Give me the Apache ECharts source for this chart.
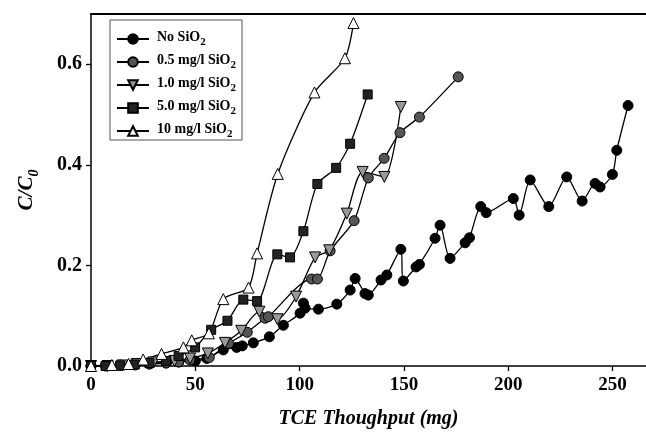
<!DOCTYPE html>
<html>
<head>
<meta charset="utf-8">
<script src="https://cdn.jsdelivr.net/npm/echarts@6/dist/echarts.min.js"></script>
<style>
  html, body { margin: 0; padding: 0; background: #fff; }
  #chart { width: 646px; height: 438px; }
</style>
</head>
<body>
<div id="chart"></div>
<script>
// series names (legend order)
const seriesNames = ['No SiO2', '0.5 mg/l SiO2', '1.0 mg/l SiO2', '5.0 mg/l SiO2', '10 mg/l SiO2'];

// tick values
const xTicks = [0, 50, 100, 150, 200, 250];
const yTicks = [0, 0.2, 0.4, 0.6];

// [TCE throughput (mg), C/C0]
const noSiO2 = [
  [0, 0], [7, 0.001], [14, 0.002], [21, 0.003], [28, 0.004], [36, 0.006], [42, 0.008], [50, 0.01],
  [55.5, 0.015], [63.4, 0.032], [69.8, 0.037], [72.5, 0.04], [77.8, 0.046], [85.5, 0.058],
  [92.2, 0.081], [100.2, 0.105], [101.8, 0.125], [102.6, 0.115], [109, 0.113], [117.8, 0.123],
  [124.2, 0.151], [126.6, 0.174], [131.3, 0.144], [132.9, 0.141], [139, 0.171], [141.8, 0.181],
  [148.5, 0.232], [149.7, 0.169], [155.8, 0.197], [157.4, 0.202], [164.9, 0.254], [167.3, 0.28],
  [172.1, 0.214], [179.3, 0.245], [181.4, 0.255], [186.8, 0.317], [189.4, 0.305], [202.4, 0.333],
  [205.2, 0.3], [210.5, 0.37], [219.4, 0.317], [228, 0.376], [235.4, 0.328], [241.6, 0.363],
  [244, 0.356], [249.9, 0.381], [252, 0.429], [257.4, 0.518]
];
const siO2_05 = [
  [0, 0], [7, 0], [14, 0.001], [21, 0.002], [28, 0.004], [36, 0.006], [42, 0.008], [47.5, 0.012],
  [56.7, 0.017], [66, 0.045], [74.9, 0.067], [83.4, 0.095], [85, 0.098], [105.7, 0.173],
  [108.5, 0.173], [114.6, 0.229], [126.1, 0.289], [132.9, 0.374], [140.5, 0.413], [148.1, 0.464],
  [157.4, 0.495], [176, 0.575]
];
const siO2_10 = [
  [0, 0], [8, 0], [15, 0.001], [22, 0.004], [30, 0.007], [40, 0.01], [47.5, 0.015], [56, 0.025],
  [64.2, 0.046], [72, 0.07], [80.7, 0.108], [89.3, 0.093], [98.3, 0.138], [107.4, 0.216],
  [114.2, 0.23], [122.6, 0.303], [130.2, 0.386], [140.6, 0.376], [148.5, 0.515]
];
const siO2_50 = [
  [0, 0], [7, 0], [14, 0.001], [21, 0.003], [28, 0.006], [36, 0.01], [42, 0.02], [49.9, 0.037],
  [57.6, 0.072], [65.4, 0.09], [73, 0.132], [79.6, 0.129], [89.3, 0.222], [95.4, 0.216],
  [101.8, 0.268], [108.5, 0.362], [117.5, 0.394], [124.2, 0.442], [132.6, 0.54]
];
const siO2_100 = [
  [0, 0], [10, 0.002], [18, 0.004], [25, 0.013], [33.8, 0.024], [44.3, 0.037], [48.3, 0.051],
  [56.5, 0.065], [63.4, 0.133], [75.5, 0.156], [79.6, 0.224], [89.5, 0.382], [107.1, 0.544],
  [121.7, 0.612], [125.8, 0.682]
];

const font = 'Liberation Serif, Times New Roman, serif';

function makeSeries(name, data, symbol, size, fill, rotate) {
  return {
    name: name,
    type: 'line',
    data: data,
    smooth: 0.25,
    symbol: symbol,
    symbolSize: size,
    symbolRotate: rotate || 0,
    showAllSymbol: true,
    lineStyle: { color: '#000', width: 1.3 },
    itemStyle: { color: fill, borderColor: '#000', borderWidth: 1 },
    emphasis: { disabled: true }
  };
}

const chart = echarts.init(document.getElementById('chart'));

const option = {
  animation: false,
  backgroundColor: '#fff',
  grid: { left: 91, right: 0, top: 14, bottom: 72 },
  legend: {
    orient: 'vertical',
    left: 110,
    top: 20,
    padding: [10, 6, 0, 6],
    itemGap: 5,
    itemWidth: 32,
    itemHeight: 12,
    borderColor: '#555',
    borderWidth: 1,
    data: seriesNames,
    formatter: function (n) {
      return '{t|' + n.slice(0, -1) + '}{s|2}';
    },
    textStyle: {
      fontFamily: font,
      fontWeight: 'bold',
      color: '#000',
      rich: {
        t: { fontFamily: font, fontWeight: 'bold', fontSize: 14, color: '#000', lineHeight: 18, verticalAlign: 'top', padding: [0, 0, 0, 3] },
        s: { fontFamily: font, fontWeight: 'bold', fontSize: 11, color: '#000', lineHeight: 18, verticalAlign: 'top', padding: [7, 0, 0, 0] }
      }
    }
  },
  xAxis: [{
    type: 'value',
    min: 0,
    max: 266,
    interval: 50,
    name: 'TCE Thoughput (mg)',
    nameLocation: 'middle',
    nameGap: 43,
    nameTextStyle: { fontFamily: font, fontWeight: 'bold', fontStyle: 'italic', fontSize: 20, color: '#000' },
    axisLine: { lineStyle: { color: '#000', width: 1.5 } },
    axisTick: { show: true, inside: false, length: 5, customValues: xTicks, lineStyle: { color: '#000', width: 1.3 } },
    axisLabel: { customValues: xTicks, margin: 10, fontFamily: font, fontWeight: 'bold', fontSize: 19, color: '#000' },
    splitLine: { show: false }
  }, {
    type: 'value',
    position: 'top',
    min: 0,
    max: 266,
    axisLine: { show: true, lineStyle: { color: '#000', width: 2 } },
    axisTick: { show: false },
    axisLabel: { show: false },
    splitLine: { show: false }
  }],
  yAxis: {
    type: 'value',
    min: 0,
    max: 0.7,
    interval: 0.1,
    name: '{a|C/C}{b|0}',
    nameLocation: 'middle',
    nameGap: 49,
    nameTextStyle: {
      rich: {
        a: { fontFamily: font, fontWeight: 'bold', fontStyle: 'italic', fontSize: 21, color: '#000', lineHeight: 26, verticalAlign: 'top' },
        b: { fontFamily: font, fontWeight: 'bold', fontStyle: 'italic', fontSize: 14, color: '#000', lineHeight: 26, verticalAlign: 'top', padding: [11, 0, 0, 0] }
      }
    },
    axisLine: { show: true, lineStyle: { color: '#000', width: 1.5 } },
    axisTick: { show: true, inside: false, length: 5, customValues: yTicks, lineStyle: { color: '#000', width: 1.3 } },
    axisLabel: {
      customValues: yTicks,
      margin: 9,
      fontFamily: font, fontWeight: 'bold', fontSize: 20, color: '#000',
      formatter: function (v) { return v.toFixed(1); }
    },
    splitLine: { show: false }
  },
  series: [
    makeSeries(seriesNames[0], noSiO2, 'circle', 10, '#000'),
    makeSeries(seriesNames[1], siO2_05, 'circle', 10, '#555'),
    makeSeries(seriesNames[2], siO2_10, 'triangle', 11, '#999', 180),
    makeSeries(seriesNames[3], siO2_50, 'rect', 9, '#222'),
    makeSeries(seriesNames[4], siO2_100, 'triangle', 11, '#fff')
  ]
};

chart.setOption(option);
</script>
</body>
</html>
